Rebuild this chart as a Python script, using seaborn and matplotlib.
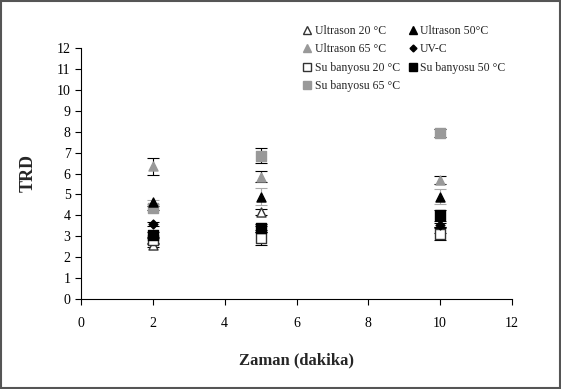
import matplotlib
matplotlib.use("Agg")
import matplotlib.pyplot as plt
import seaborn as sns
import pandas as pd
from matplotlib.lines import Line2D

sns.set_style("white")
plt.rcParams['font.family'] = ['Liberation Serif', 'DejaVu Serif']

times = [2, 5, 10]
series = ["Ultrason 20 °C", "Ultrason 65 °C", "Su banyosu 20 °C", "Su banyosu 65 °C",
          "Ultrason 50°C", "UV-C", "Su banyosu 50 °C"]
u20 = [2.6, 4.15, 3.3]
u65 = [6.35, 5.85, 5.7]
s20 = [2.8, 2.9, 3.1]
s65 = [4.35, 6.85, 7.95]
u50 = [4.65, 4.9, 4.9]
uvc = [3.6, 3.4, 3.55]
s50 = [3.05, 3.4, 4.0]
u20_err = [0.1, 0.15, 0.15]
u65_err = [0.4, 0.25, 0.2]
s20_err = [0.15, 0.3, 0.3]
s65_err = [0.1, 0.35, 0.2]
u50_err = [0.1, 0.4, 0.35]
uvc_err = [0.1, 0.1, 0.1]
s50_err = [0.15, 0.2, 0.25]

values = [u20, u65, s20, s65, u50, uvc, s50]
errors = [u20_err, u65_err, s20_err, s65_err, u50_err, uvc_err, s50_err]
markers = ["^", "^", "s", "s", "^", "D", "s"]
faces = ["white", "#999999", "white", "#999999", "black", "black", "black"]
edges = ["#333333", "#999999", "#333333", "#999999", "black", "black", "black"]
ecolors = ["black", "black", "black", "black", "#aaaaaa", "black", "black"]
sizes = [6.5, 6.5, 6.5, 6.5, 6.5, 4.5, 6.5]

rows = []
for name, vals, errs in zip(series, values, errors):
    for t, v, e in zip(times, vals, errs):
        rows.append({"Zaman": t, "TRD": v, "err": e, "Seri": name})
df = pd.DataFrame(rows)

fig = plt.figure(figsize=(5.61, 3.89), dpi=100)
ax = fig.add_axes([81/561, 1 - 299/389, (512-81)/561, (299-48)/389])

for i, name in enumerate(series):
    d = df[df["Seri"] == name]
    ax.errorbar(d["Zaman"], d["TRD"], yerr=d["err"], fmt="none", ecolor=ecolors[i],
                elinewidth=0.8, capsize=4, capthick=0.8, zorder=2)
    sns.scatterplot(data=d, x="Zaman", y="TRD", ax=ax, marker=markers[i],
                    color=faces[i], edgecolor=edges[i], linewidth=1.0,
                    s=sizes[i]**2, zorder=3, legend=False)

ax.set_xlim(0, 12)
ax.set_ylim(0, 12)
ax.set_xticks(range(0, 13, 2))
ax.set_yticks(range(0, 13, 1))
for s in ["top", "right"]:
    ax.spines[s].set_visible(False)
for s in ["left", "bottom"]:
    ax.spines[s].set_color("black")
    ax.spines[s].set_linewidth(0.8)
ax.tick_params(axis="both", direction="out", length=4, width=0.8, colors="black",
               labelsize=10, left=True, bottom=True)
ax.tick_params(axis="x", pad=9)
ax.set_xlabel("Zaman (dakika)", fontsize=12, fontweight="bold", labelpad=16)
ax.set_ylabel("TRD", fontsize=13, fontweight="bold", labelpad=14)

handles = [Line2D([], [], linestyle="none", marker=m, markerfacecolor=f,
                  markeredgecolor=e, markersize=s - 1)
           for m, f, e, s in zip(markers, faces, edges, sizes)]
leg = fig.legend(handles, series, ncol=2, loc="upper left",
                 bbox_to_anchor=(298/561, 1 - 19/389), frameon=False,
                 fontsize=8.5, handlelength=0.6, handletextpad=0.3,
                 columnspacing=0.8, labelspacing=0.55, borderpad=0)

fig.patches.append(plt.Rectangle((0.002, 0.002), 0.996, 0.996, transform=fig.transFigure,
                                 fill=False, edgecolor="#555555", linewidth=1.5))

fig.savefig("out.png", dpi=100)
